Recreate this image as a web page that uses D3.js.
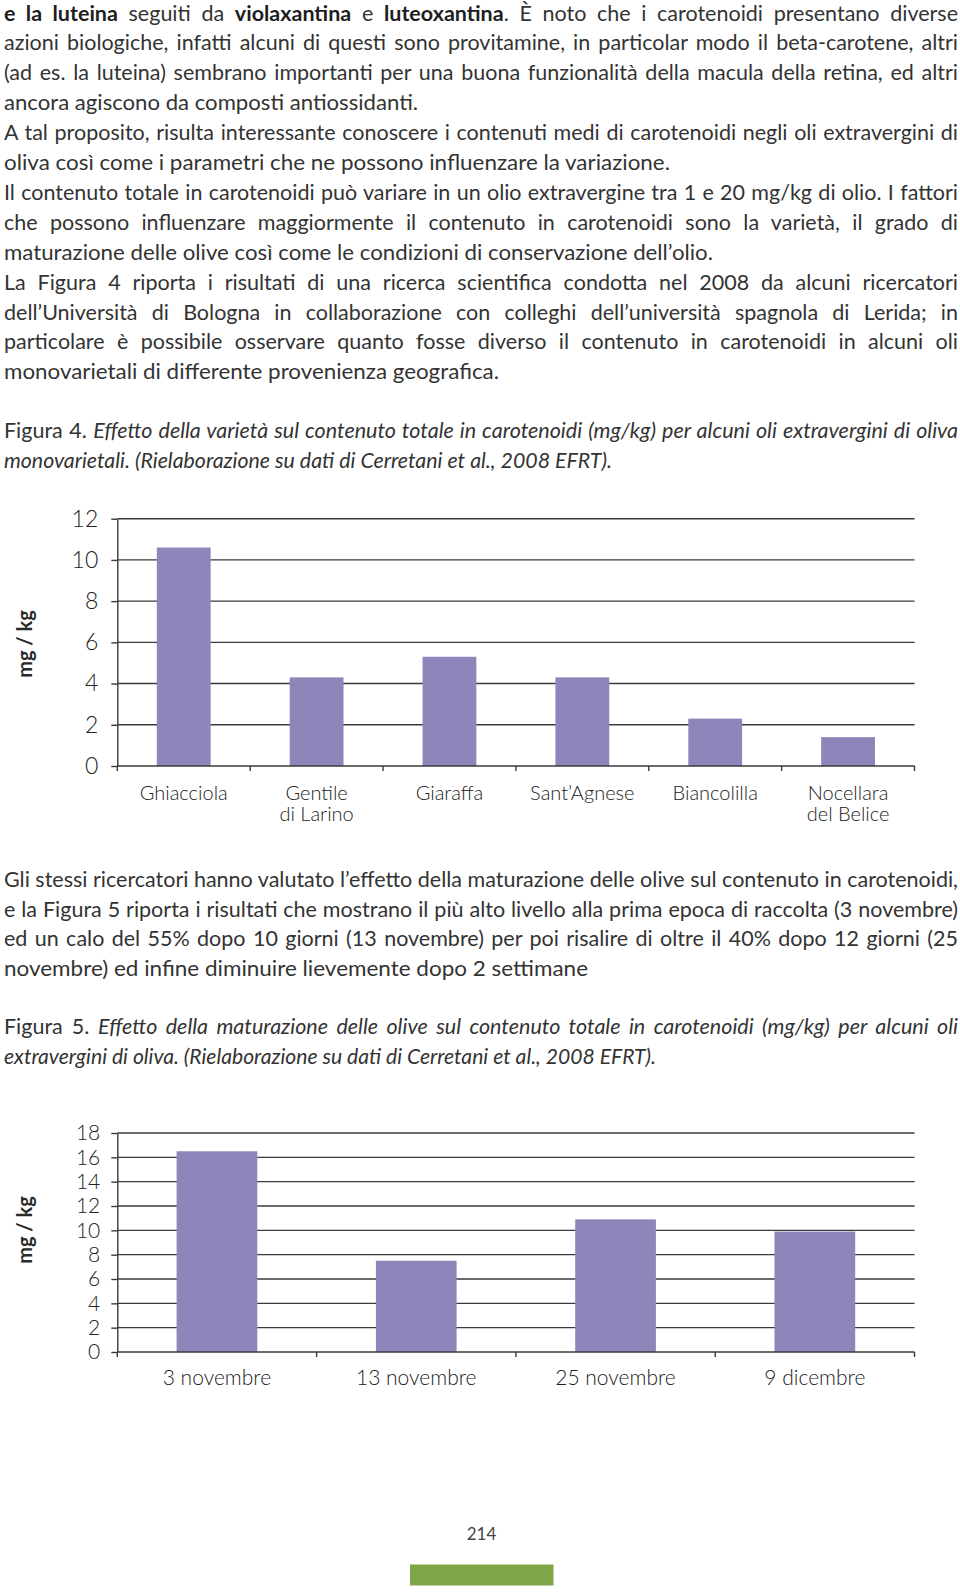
<!DOCTYPE html>
<html><head><meta charset="utf-8">
<script src="https://cdn.jsdelivr.net/npm/d3@7"></script>
<style>
body{margin:0;background:#fff}
svg{display:block}
</style>
</head><body>
<script>
// ---------- DATA ----------
const varietyCategories = ["Ghiacciola", "Gentile\ndi Larino", "Giaraffa", "Sant’Agnese", "Biancolilla", "Nocellara\ndel Belice"];
const varietyValues = [10.6, 4.3, 5.3, 4.3, 2.3, 1.4];
const varietyTicks = [0, 2, 4, 6, 8, 10, 12];

const harvestCategories = ["3 novembre", "13 novembre", "25 novembre", "9 dicembre"];
const harvestValues = [16.5, 7.5, 10.9, 9.9];
const harvestTicks = [0, 2, 4, 6, 8, 10, 12, 14, 16, 18];

const yAxisTitle = "mg / kg";
const pageNumber = "214";

// body text lines: segments [text, style]  (b = bold, i = italic)
const textLines = [
  {y: 20.5, j: true, s: [["e la luteina","b"],[" seguiti da ",""],["violaxantina","b"],[" e ",""],["luteoxantina","b"],[". È noto che i carotenoidi presentano diverse",""]]},
  {y: 50.4, j: true, s: [["azioni biologiche, infatti alcuni di questi sono provitamine, in particolar modo il beta-carotene, altri",""]]},
  {y: 80.3, j: true, s: [["(ad es. la luteina) sembrano importanti per una buona funzionalità della macula della retina, ed altri",""]]},
  {y: 110.2, w: 414, s: [["ancora agiscono da composti antiossidanti.",""]]},
  {y: 140.1, j: true, s: [["A tal proposito, risulta interessante conoscere i contenuti medi di carotenoidi negli oli extravergini di",""]]},
  {y: 170.0, w: 666, s: [["oliva così come i parametri che ne possono influenzare la variazione.",""]]},
  {y: 199.9, j: true, s: [["Il contenuto totale in carotenoidi può variare in un olio extravergine tra 1 e 20 mg/kg di olio. I fattori",""]]},
  {y: 229.8, j: true, s: [["che possono influenzare maggiormente il contenuto in carotenoidi sono la varietà, il grado di",""]]},
  {y: 259.7, w: 709, s: [["maturazione delle olive così come le condizioni di conservazione dell’olio.",""]]},
  {y: 289.6, j: true, s: [["La Figura 4 riporta i risultati di una ricerca scientifica condotta nel 2008 da alcuni ricercatori",""]]},
  {y: 319.5, j: true, s: [["dell’Università di Bologna in collaborazione con colleghi dell’università spagnola di Lerida; in",""]]},
  {y: 349.4, j: true, s: [["particolare è possibile osservare quanto fosse diverso il contenuto in carotenoidi in alcuni oli",""]]},
  {y: 379.3, w: 495, s: [["monovarietali di differente provenienza geografica.",""]]},
  {y: 438, j: true, s: [["Figura 4. ",""],["Effetto della varietà sul contenuto totale in carotenoidi (mg/kg) per alcuni oli extravergini di oliva","i"]]},
  {y: 468, w: 608, s: [["monovarietali. (Rielaborazione su dati di Cerretani et al., 2008 EFRT).","i"]]},
  {y: 887, j: true, s: [["Gli stessi ricercatori hanno valutato l’effetto della maturazione delle olive sul contenuto in carotenoidi,",""]]},
  {y: 916.5, j: true, s: [["e la Figura 5 riporta i risultati che mostrano il più alto livello alla prima epoca di raccolta (3 novembre)",""]]},
  {y: 946, j: true, s: [["ed un calo del 55% dopo 10 giorni (13 novembre) per poi risalire di oltre il 40% dopo 12 giorni (25",""]]},
  {y: 975.5, w: 584, s: [["novembre) ed infine diminuire lievemente dopo 2 settimane",""]]},
  {y: 1034, j: true, s: [["Figura 5. ",""],["Effetto della maturazione delle olive sul contenuto totale in carotenoidi (mg/kg) per alcuni oli","i"]]},
  {y: 1064, w: 652, s: [["extravergini di oliva. (Rielaborazione su dati di Cerretani et al., 2008 EFRT).","i"]]}
];

// ---------- PAGE ----------
const W = 960, H = 1594;
const svg = d3.select("body").append("svg").attr("width", W).attr("height", H);
svg.append("rect").attr("width", W).attr("height", H).attr("fill", "#fff");

const TEXT_X = 4, TEXT_R = 958;
const bodyFont = "Lato, 'Open Sans', sans-serif";

textLines.forEach(line => {
  const t = svg.append("text")
    .attr("x", TEXT_X).attr("y", line.y)
    .attr("font-family", bodyFont).attr("font-size", 21.5)
    .attr("fill", "#333");
  line.s.forEach(([str, st]) => {
    const ts = t.append("tspan").text(str);
    if (st === "b") ts.attr("font-weight", 700).attr("fill", "#1e1e1e");
    if (st === "i") ts.attr("font-style", "italic");
  });
  const natural = t.node().getComputedTextLength();
  const target = line.j ? (TEXT_R - TEXT_X) : line.w;
  const spaces = (line.s.map(d => d[0]).join("").match(/ /g) || []).length;
  if (line.j && natural < target && spaces > 0) {
    t.style("word-spacing", ((target - natural) / spaces) + "px");
  } else {
    t.attr("textLength", target).attr("lengthAdjust", "spacingAndGlyphs");
  }
});

// ---------- CHARTS ----------
const chartFont = "'Lato Light', Lato, sans-serif";
const barColor = "#8e86bb";
const lineColor = "#3a3a3a";

function drawChart(cfg) {
  const g = svg.append("g");
  const x = d3.scaleBand().domain(cfg.cats).range([cfg.x0, cfg.x1])
    .paddingInner(0.595).paddingOuter(0.2975);
  const y = d3.scaleLinear().domain([0, d3.max(cfg.ticks)]).range([cfg.yBottom, cfg.yTop]);

  // gridlines
  g.append("g").selectAll("line").data(cfg.ticks.filter(d => d > 0)).join("line")
    .attr("x1", cfg.x0).attr("x2", cfg.x1)
    .attr("y1", d => y(d)).attr("y2", d => y(d))
    .attr("stroke", lineColor).attr("stroke-width", 1.4);

  // bars
  g.append("g").selectAll("rect").data(cfg.vals).join("rect")
    .attr("x", (d, i) => x(cfg.cats[i]))
    .attr("width", x.bandwidth())
    .attr("y", d => y(d))
    .attr("height", d => y(0) - y(d))
    .attr("fill", barColor);

  // y axis
  const ya = g.append("g").attr("transform", `translate(${cfg.x0},0)`)
    .call(d3.axisLeft(y).tickValues(cfg.ticks).tickSize(6).tickSizeOuter(0).tickPadding(cfg.tickPad));
  ya.select(".domain").attr("stroke", lineColor).attr("stroke-width", 1.4);
  ya.selectAll(".tick line").attr("stroke", lineColor).attr("stroke-width", 1.4);
  ya.selectAll(".tick text").attr("font-family", chartFont).attr("font-weight", 300)
    .attr("font-size", cfg.tickSize).attr("fill", "#222");

  // x axis line + boundary ticks
  g.append("line").attr("x1", cfg.x0).attr("x2", cfg.x1)
    .attr("y1", y(0)).attr("y2", y(0))
    .attr("stroke", lineColor).attr("stroke-width", 1.6);
  const bounds = d3.range(cfg.cats.length + 1).map(i => cfg.x0 + i * x.step());
  g.append("g").selectAll("line").data(bounds).join("line")
    .attr("x1", d => d).attr("x2", d => d)
    .attr("y1", y(0)).attr("y2", y(0) + 5)
    .attr("stroke", lineColor).attr("stroke-width", 1.4);

  // category labels (multi-line as separate text elements)
  cfg.cats.forEach(d => {
    d.split("\n").forEach((p, k) => {
      g.append("text")
        .attr("x", x(d) + x.bandwidth() / 2)
        .attr("y", cfg.catY + k * 21)
        .attr("text-anchor", "middle")
        .attr("font-family", chartFont).attr("font-weight", 300)
        .attr("font-size", cfg.catSize).attr("fill", "#222")
        .text(p);
    });
  });

  // y title
  g.append("text")
    .attr("transform", `translate(${cfg.titleX},${cfg.titleY}) rotate(-90)`)
    .attr("text-anchor", "middle")
    .attr("font-family", "Lato, sans-serif").attr("font-weight", 700)
    .attr("font-size", 20).attr("fill", "#2a2a2a")
    .text(yAxisTitle);
}

drawChart({
  cats: varietyCategories, vals: varietyValues, ticks: varietyTicks,
  x0: 117.3, x1: 914.5, yTop: 518.7, yBottom: 766,
  tickPad: 13, tickSize: 23, catY: 800, catSize: 20,
  titleX: 32, titleY: 644
});

drawChart({
  cats: harvestCategories, vals: harvestValues, ticks: harvestTicks,
  x0: 117.3, x1: 914.5, yTop: 1133, yBottom: 1352,
  tickPad: 11, tickSize: 21, catY: 1385, catSize: 21,
  titleX: 32, titleY: 1230
});

// ---------- FOOTER ----------
svg.append("text").attr("x", 481.5).attr("y", 1540)
  .attr("text-anchor", "middle")
  .attr("font-family", bodyFont).attr("font-size", 17).attr("fill", "#444")
  .text(pageNumber);
svg.append("rect").attr("x", 410).attr("y", 1564.5).attr("width", 143.5).attr("height", 21)
  .attr("fill", "#7ea646");
</script>
</body></html>
